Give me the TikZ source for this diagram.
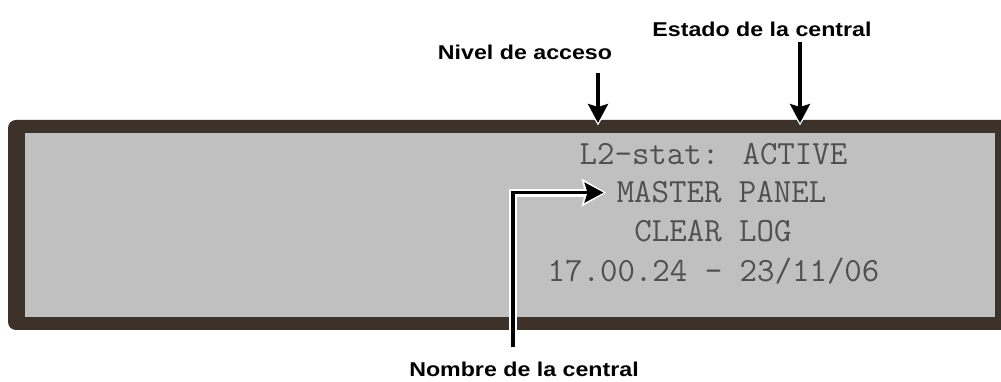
\documentclass[tikz,border=0pt]{standalone}
\usepackage{fontspec}
\newfontfamily\rotulofont[FakeStretch=1.16]{Liberation Sans}
\usepackage{xcolor}
\usepackage{tikz}
\usetikzlibrary{positioning,calc}
\usetikzlibrary{arrows.meta}
\definecolor{marco}{RGB}{61,50,41}
\definecolor{pantalla}{RGB}{192,192,192}
\definecolor{lcdtexto}{RGB}{80,80,80}
\tikzstyle{rotulo} = [font=\rotulofont\bfseries\fontsize{20}{24}\selectfont, inner sep=0pt, anchor=base]
\tikzstyle{lcd} = [font=\ttfamily\fontsize{33.9}{40}\selectfont, text=lcdtexto, inner sep=0pt, anchor=base]
\tikzstyle{flecha} = [line width=3.3pt, -{Stealth[length=19pt,width=20pt,inset=3pt]}, preaction={draw=white, line width=8pt, -{Stealth[length=24pt,width=27pt,inset=3pt]}, shorten >=-2.5pt}]

\begin{document}
\begin{tikzpicture}[x=1pt,y=1pt]
        \useasboundingbox (0,0) rectangle (1001,382);
        \draw[fill=marco, draw=none, rounded corners=8pt] (8,52) rectangle (1012,262);
        \draw[fill=pantalla, draw=none] (25,65) rectangle (995,249);
        \node[lcd] (stat) at (713.5,217) {L2-stat: ACTIVE};
        \node[lcd] (panel) at (721.5,179) {MASTER PANEL};
        \node[lcd] (log) at (713,140) {CLEAR LOG};
        \node[lcd] (fecha) at (713.5,100) {17.00.24 - 23/11/06};
        \node[rotulo] (nivel) at (525,322) {Nivel de acceso};
        \node[rotulo] (estado) at (762,345) {Estado de la central};
        \node[rotulo] (nombre) at (524,5) {Nombre de la central};
        \coordinate (nivelpunta) at (598,259);
        \coordinate (estadopunta) at (800,259);
        \coordinate (panelpunta) at ($(panel.west)+(-13,0)$);
        % flechas de los rotulos
        \draw[flecha] ($(nivel.base -| nivelpunta)+(0,-13)$) -- (nivelpunta);
        \draw[flecha] ($(estado.base -| estadopunta)+(0,-5)$) -- (estadopunta);
        \draw[flecha] ($(nombre.north)+(-11,15)$) |- (panelpunta);
    \end{tikzpicture}
\end{document}
